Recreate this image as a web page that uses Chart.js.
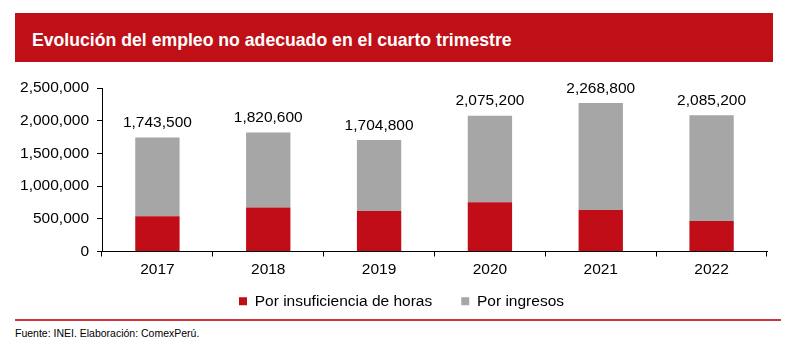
<!DOCTYPE html>
<html>
<head>
<meta charset="utf-8">
<script src="https://cdn.jsdelivr.net/npm/chart.js@4.4.1/dist/chart.umd.min.js"></script>
<style>
  body { margin: 0; width: 798px; height: 349px; background: #fff; position: relative; overflow: hidden; font-family: "Liberation Sans", Arial, sans-serif; }
  #banner { position: absolute; left: 15px; top: 13px; width: 758px; height: 49px; background: #bf0f17; }
  #banner span { position: absolute; left: 17px; top: 17px; color: #fff; font-weight: bold; font-size: 18.5px; line-height: 20px; white-space: nowrap; transform: scaleX(0.954); transform-origin: left top; }
  #wrap { position: absolute; left: 0; top: 70px; width: 798px; height: 249px; }
  #rule { position: absolute; left: 15px; top: 319px; width: 766px; height: 2px; background: #d3333b; }
  #source { position: absolute; left: 15px; top: 327px; font-size: 11px; color: #000; white-space: nowrap; transform: scaleX(0.954); transform-origin: left top; }
</style>
</head>
<body>
<div id="banner"><span>Evolución del empleo no adecuado en el cuarto trimestre</span></div>
<div id="wrap"><canvas id="chart"></canvas></div>
<div id="rule"></div>
<div id="source">Fuente: INEI. Elaboración: ComexPerú.</div>
<script>
// data
var years = ['2017', '2018', '2019', '2020', '2021', '2022'];
var porHoras = [538000, 672000, 619000, 753000, 634000, 465000];
var porIngresos = [1205500, 1148600, 1085800, 1322200, 1634800, 1620200];
var yTicks = [0, 500000, 1000000, 1500000, 2000000, 2500000];

var fmt = function(v) {
  return v.toLocaleString('en-US');
};

var baseFont = { family: "'Liberation Sans', Arial, sans-serif", size: 15.5 };

// totals drawn above each stack
var totalLabels = {
  id: 'totalLabels',
  afterLayout: function(chart) {
    // let the year labels spill into the legend's top padding
    chart.scales.x.bottom = chart.scales.x.top + 40;
    // nudge the legend to the right, as in the original
    chart.legend.left += 18;
    chart.legend.right += 18;
  },
  afterDatasetsDraw: function(chart) {
    var ctx = chart.ctx;
    var y = chart.scales.y;
    var meta = chart.getDatasetMeta(1);
    ctx.save();
    ctx.font = baseFont.size + 'px ' + baseFont.family;
    ctx.fillStyle = '#000';
    ctx.textAlign = 'center';
    ctx.textBaseline = 'bottom';
    for (var i = 0; i < years.length; i++) {
      var total = porHoras[i] + porIngresos[i];
      ctx.fillText(fmt(total), meta.data[i].x, y.getPixelForValue(total) - 7);
    }
    ctx.restore();
  }
};

new Chart(document.getElementById('chart'), {
  type: 'bar',
  data: {
    labels: years,
    datasets: [{
      label: 'Por insuficiencia de horas',
      data: porHoras,
      backgroundColor: '#c00d17'
    }, {
      label: 'Por ingresos',
      data: porIngresos,
      backgroundColor: '#a6a6a6'
    }]
  },
  options: {
    responsive: true,
    maintainAspectRatio: false,
    animation: false,
    layout: { padding: { top: 18, right: 31, left: 0, bottom: 0 } },
    datasets: { bar: { barPercentage: 0.4, categoryPercentage: 1 } },
    plugins: {
      tooltip: { enabled: false },
      legend: {
        position: 'bottom',
        labels: {
          boxWidth: 8,
          boxHeight: 8,
          padding: 29,
          color: '#000',
          font: baseFont
        }
      }
    },
    scales: {
      x: {
        stacked: true,
        border: { display: true, color: '#000', width: 1 },
        grid: { offset: true, drawOnChartArea: false, drawTicks: true, tickLength: 5, color: '#000' },
        ticks: { color: '#000', font: baseFont, padding: 4 },
        afterFit: function(scale) {
          scale.height = 13;
        }
      },
      y: {
        stacked: true,
        min: 0,
        max: 2500000,
        border: { display: true, color: '#000', width: 1 },
        grid: { drawOnChartArea: false, drawTicks: true, tickLength: 5, color: '#000' },
        afterBuildTicks: function(scale) {
          scale.ticks = yTicks.map(function(v) { return { value: v }; });
        },
        afterFit: function(scale) {
          scale.width = 102;
        },
        ticks: {
          color: '#000',
          font: baseFont,
          padding: 8,
          callback: function(v) { return fmt(v); }
        }
      }
    }
  },
  plugins: [totalLabels]
});
</script>
</body>
</html>
